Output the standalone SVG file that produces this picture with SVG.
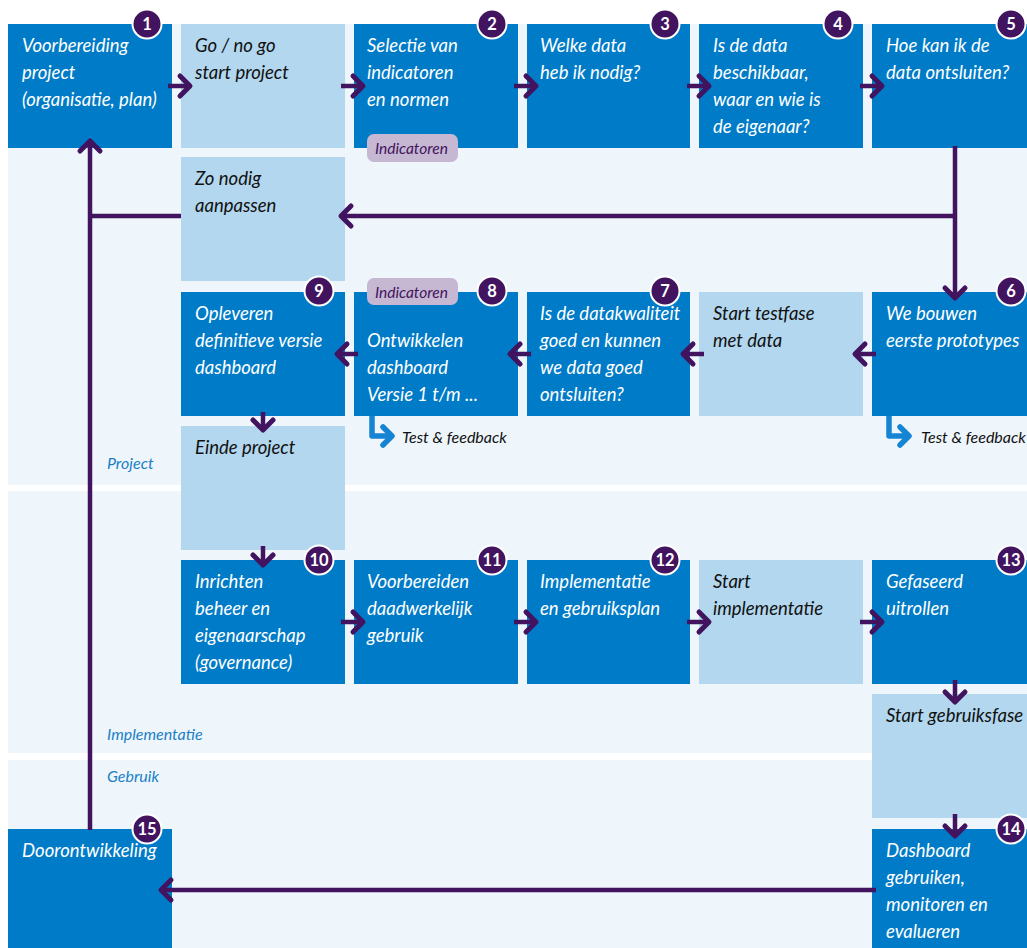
<svg xmlns="http://www.w3.org/2000/svg" width="1027" height="948" viewBox="0 0 1027 948">
<style>
.lane{fill:#eef6fc}
.dk{fill:#007bc7}
.lt{fill:#b2d7ee}
text{font-family:Lato,"Open Sans","Liberation Sans",sans-serif;font-style:italic}
.tw{fill:#ffffff;font-size:18.5px}
.tb{fill:#111111;font-size:18.5px}
.ll{fill:#1a7fc6;font-size:16px}
.bd circle{fill:#42145f;stroke:#ffffff;stroke-width:2}
.bd text{fill:#ffffff;font-size:16.5px;font-weight:bold;font-style:normal;text-anchor:middle}
.tag rect{fill:#c6b8d3}
.tag text{fill:#42145f;font-size:15.5px}
.tf{fill:#111111;font-size:16px}
.cn{fill:none;stroke:#42145f;stroke-width:4.5}
.cb{fill:none;stroke:#1584d2;stroke-width:5.5;stroke-linejoin:round}
</style>
<defs>
<marker id="ah" markerUnits="userSpaceOnUse" viewBox="-14 -14 18 28" markerWidth="18" markerHeight="28" refX="0" refY="0" orient="auto" overflow="visible">
<path d="M-10,-10 L0,0 L-10,10" fill="none" stroke="#42145f" stroke-width="5" stroke-linecap="round" stroke-linejoin="round"/>
</marker>
<marker id="ahb" markerUnits="userSpaceOnUse" viewBox="-14 -14 18 28" markerWidth="18" markerHeight="28" refX="0" refY="0" orient="auto" overflow="visible">
<path d="M-9,-9 L0,0 L-9,9" fill="none" stroke="#1584d2" stroke-width="5.5" stroke-linecap="round" stroke-linejoin="round"/>
</marker>
</defs>
<rect width="1027" height="948" fill="#ffffff"/>
<g id="lanes">
<rect class="lane" x="8" y="24" width="1019" height="461"/>
<rect class="lane" x="8" y="491" width="1019" height="262"/>
<rect class="lane" x="8" y="760" width="1019" height="188"/>
<text class="ll" x="107" y="469">Project</text>
<text class="ll" x="107" y="740">Implementatie</text>
<text class="ll" x="107" y="782">Gebruik</text>
</g>
<g id="n1"><rect class="dk" x="8" y="24" width="164" height="124"/>
<text class="tw" x="22" y="52">Voorbereiding</text><text class="tw" x="22" y="79">project</text><text class="tw" x="22" y="106">(organisatie, plan)</text></g>
<g id="gonogo"><rect class="lt" x="181" y="24" width="164" height="124"/>
<text class="tb" x="195" y="52">Go / no go</text><text class="tb" x="195" y="79">start project</text></g>
<g id="n2"><rect class="dk" x="354" y="24" width="164" height="124"/>
<text class="tw" x="367" y="52">Selectie van</text><text class="tw" x="367" y="79">indicatoren</text><text class="tw" x="367" y="106">en normen</text></g>
<g id="n3"><rect class="dk" x="527" y="24" width="163" height="124"/>
<text class="tw" x="540" y="52">Welke data</text><text class="tw" x="540" y="79">heb ik nodig?</text></g>
<g id="n4"><rect class="dk" x="699" y="24" width="164" height="124"/>
<text class="tw" x="713" y="52">Is de data</text><text class="tw" x="713" y="79">beschikbaar,</text><text class="tw" x="713" y="106">waar en wie is</text><text class="tw" x="713" y="133">de eigenaar?</text></g>
<g id="n5"><rect class="dk" x="872" y="24" width="155" height="124"/>
<text class="tw" x="886" y="52">Hoe kan ik de</text><text class="tw" x="886" y="79">data ontsluiten?</text></g>
<g id="zonodig"><rect class="lt" x="181" y="157" width="164" height="124"/>
<text class="tb" x="195" y="185">Zo nodig</text><text class="tb" x="195" y="212">aanpassen</text></g>
<g id="n9"><rect class="dk" x="181" y="292" width="164" height="124"/>
<text class="tw" x="195" y="320">Opleveren</text><text class="tw" x="195" y="347">definitieve versie</text><text class="tw" x="195" y="374">dashboard</text></g>
<g id="n8"><rect class="dk" x="354" y="292" width="164" height="124"/>
<text class="tw" x="367" y="347">Ontwikkelen</text><text class="tw" x="367" y="374">dashboard</text><text class="tw" x="367" y="401">Versie 1 t/m ...</text></g>
<g id="n7"><rect class="dk" x="527" y="292" width="163" height="124"/>
<text class="tw" x="540" y="320">Is de datakwaliteit</text><text class="tw" x="540" y="347">goed en kunnen</text><text class="tw" x="540" y="374">we data goed</text><text class="tw" x="540" y="401">ontsluiten?</text></g>
<g id="testfase"><rect class="lt" x="699" y="292" width="164" height="124"/>
<text class="tb" x="713" y="320">Start testfase</text><text class="tb" x="713" y="347">met data</text></g>
<g id="n6"><rect class="dk" x="872" y="292" width="155" height="124"/>
<text class="tw" x="886" y="320">We bouwen</text><text class="tw" x="886" y="347">eerste prototypes</text></g>
<g id="einde"><rect class="lt" x="181" y="426" width="164" height="124"/>
<text class="tb" x="195" y="454">Einde project</text></g>
<g id="n10"><rect class="dk" x="181" y="560" width="164" height="124"/>
<text class="tw" x="195" y="588">Inrichten</text><text class="tw" x="195" y="615">beheer en</text><text class="tw" x="195" y="642">eigenaarschap</text><text class="tw" x="195" y="669">(governance)</text></g>
<g id="n11"><rect class="dk" x="354" y="560" width="164" height="124"/>
<text class="tw" x="367" y="588">Voorbereiden</text><text class="tw" x="367" y="615">daadwerkelijk</text><text class="tw" x="367" y="642">gebruik</text></g>
<g id="n12"><rect class="dk" x="527" y="560" width="163" height="124"/>
<text class="tw" x="540" y="588">Implementatie</text><text class="tw" x="540" y="615">en gebruiksplan</text></g>
<g id="startimpl"><rect class="lt" x="699" y="560" width="164" height="124"/>
<text class="tb" x="713" y="588">Start</text><text class="tb" x="713" y="615">implementatie</text></g>
<g id="n13"><rect class="dk" x="872" y="560" width="155" height="124"/>
<text class="tw" x="886" y="588">Gefaseerd</text><text class="tw" x="886" y="615">uitrollen</text></g>
<g id="gebruiksfase"><rect class="lt" x="872" y="694" width="155" height="124"/>
<text class="tb" x="886" y="722">Start gebruiksfase</text></g>
<g id="n14"><rect class="dk" x="872" y="829" width="155" height="119"/>
<text class="tw" x="886" y="857">Dashboard</text><text class="tw" x="886" y="884">gebruiken,</text><text class="tw" x="886" y="911">monitoren en</text><text class="tw" x="886" y="938">evalueren</text></g>
<g id="n15"><rect class="dk" x="8" y="829" width="164" height="119"/>
<text class="tw" x="22" y="857">Doorontwikkeling</text></g>
<g id="tags">
<g class="tag"><rect x="367" y="134" width="91" height="28" rx="7"/><text x="375" y="154">Indicatoren</text></g>
<g class="tag"><rect x="367" y="278" width="91" height="27" rx="7"/><text x="375" y="298">Indicatoren</text></g>
</g>
<g id="connectors">
<path class="cn" d="M168,86 H190" marker-end="url(#ah)"/>
<path class="cn" d="M341,86 H363" marker-end="url(#ah)"/>
<path class="cn" d="M514,86 H536" marker-end="url(#ah)"/>
<path class="cn" d="M687,86 H709" marker-end="url(#ah)"/>
<path class="cn" d="M860,86 H882" marker-end="url(#ah)"/>
<path class="cn" d="M955,146 V298" marker-end="url(#ah)"/>
<path class="cn" d="M955,216 H341" marker-end="url(#ah)"/>
<path class="cn" d="M181,216 H90"/>
<path class="cn" d="M90,830 V141" marker-end="url(#ah)"/>
<path class="cn" d="M876,354 H855" marker-end="url(#ah)"/>
<path class="cn" d="M704,354 H683" marker-end="url(#ah)"/>
<path class="cn" d="M531,354 H510" marker-end="url(#ah)"/>
<path class="cn" d="M358,354 H337" marker-end="url(#ah)"/>
<path class="cn" d="M263,412 V430" marker-end="url(#ah)"/>
<path class="cn" d="M263,546 V565" marker-end="url(#ah)"/>
<path class="cn" d="M341,622 H363" marker-end="url(#ah)"/>
<path class="cn" d="M514,622 H536" marker-end="url(#ah)"/>
<path class="cn" d="M687,622 H709" marker-end="url(#ah)"/>
<path class="cn" d="M860,622 H882" marker-end="url(#ah)"/>
<path class="cn" d="M955,680 V702" marker-end="url(#ah)"/>
<path class="cn" d="M955,814 V836" marker-end="url(#ah)"/>
<path class="cn" d="M876,890 H161" marker-end="url(#ah)"/>
<path class="cb" d="M372,416 V436 H392" marker-end="url(#ahb)"/>
<path class="cb" d="M889,416 V436 H909" marker-end="url(#ahb)"/>
<text class="tf" x="402" y="443">Test &amp; feedback</text>
<text class="tf" x="921" y="443">Test &amp; feedback</text>
</g>
<g id="badges">
<g class="bd"><circle cx="147" cy="24" r="14.5"/><text x="147" y="30">1</text></g>
<g class="bd"><circle cx="492" cy="24" r="14.5"/><text x="492" y="30">2</text></g>
<g class="bd"><circle cx="665" cy="24" r="14.5"/><text x="665" y="30">3</text></g>
<g class="bd"><circle cx="838" cy="24" r="14.5"/><text x="838" y="30">4</text></g>
<g class="bd"><circle cx="1011" cy="24" r="14.5"/><text x="1011" y="30">5</text></g>
<g class="bd"><circle cx="1011" cy="291" r="14.5"/><text x="1011" y="297">6</text></g>
<g class="bd"><circle cx="665" cy="291" r="14.5"/><text x="665" y="297">7</text></g>
<g class="bd"><circle cx="492" cy="291" r="14.5"/><text x="492" y="297">8</text></g>
<g class="bd"><circle cx="319" cy="291" r="14.5"/><text x="319" y="297">9</text></g>
<g class="bd"><circle cx="319" cy="560" r="14.5"/><text x="319" y="566">10</text></g>
<g class="bd"><circle cx="492" cy="560" r="14.5"/><text x="492" y="566">11</text></g>
<g class="bd"><circle cx="665" cy="560" r="14.5"/><text x="665" y="566">12</text></g>
<g class="bd"><circle cx="1011" cy="560" r="14.5"/><text x="1011" y="566">13</text></g>
<g class="bd"><circle cx="1011" cy="829" r="14.5"/><text x="1011" y="835">14</text></g>
<g class="bd"><circle cx="147" cy="829" r="14.5"/><text x="147" y="835">15</text></g>
</g>
</svg>
